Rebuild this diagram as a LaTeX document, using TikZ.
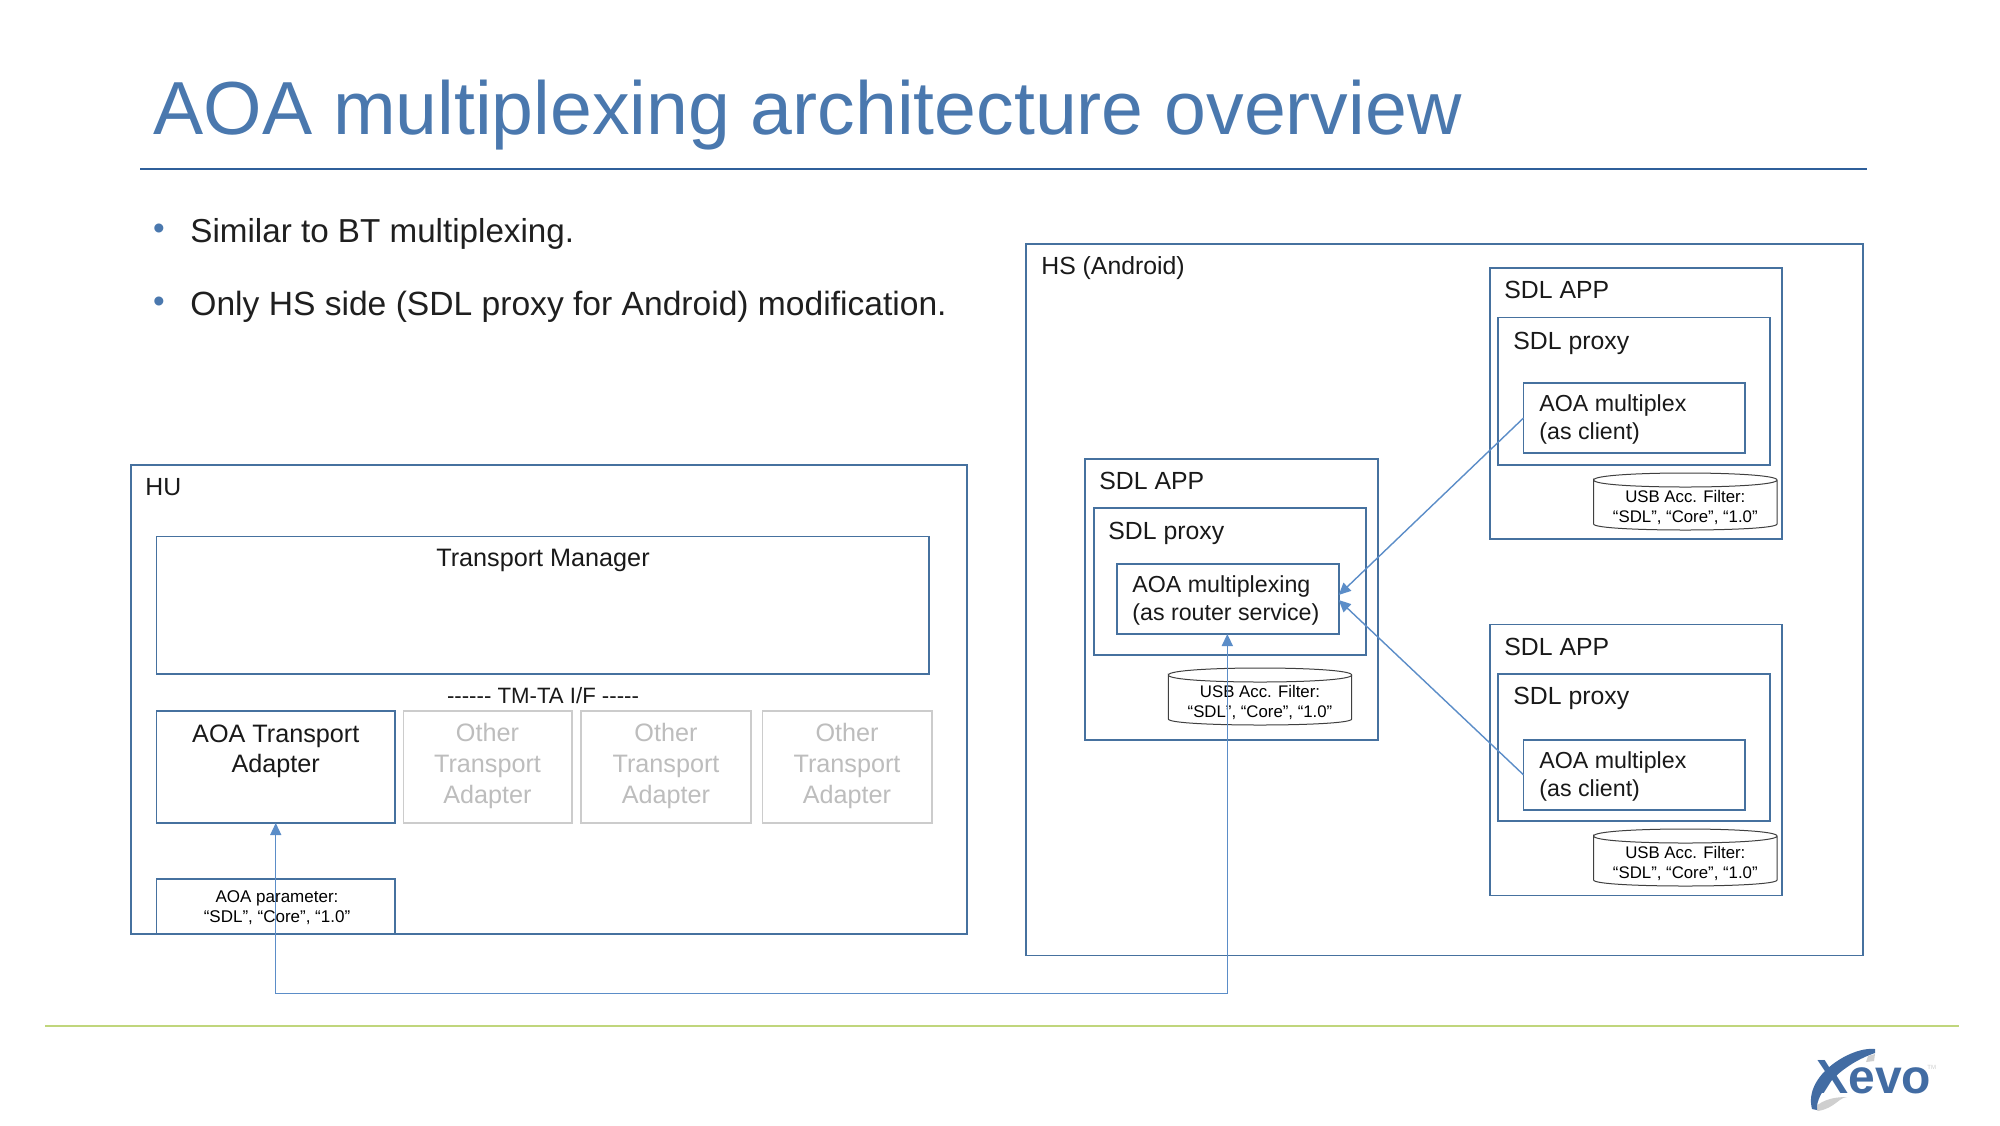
\documentclass[tikz,border=0pt]{standalone}
\usepackage{fontspec}
\setmainfont{Liberation Sans}
\usetikzlibrary{arrows.meta}
\definecolor{titleblue}{HTML}{4A78AE}
\definecolor{rulecol}{HTML}{2F5F9A}
\definecolor{boxblue}{HTML}{46719F}
\definecolor{arrowblue}{HTML}{5B8DC8}
\definecolor{greybox}{HTML}{CCCCCC}
\definecolor{greytext}{HTML}{BDBDBD}
\definecolor{footgreen}{HTML}{C0D67C}
\definecolor{logoblue}{HTML}{426CA3}
\definecolor{logogrey}{HTML}{CFCFCF}
\tikzset{
  x=0.5pt,y=-0.5pt,
  bx/.style={draw=boxblue,line width=0.9pt,inner sep=0pt,outer sep=0pt,anchor=north west},
  gbx/.style={bx,draw=greybox},
  cyl/.style={rectangle,minimum width=91.7pt,minimum height=22.5pt,
     inner sep=0pt,outer sep=0pt,align=center,font=\fontsize{8.4}{10}\selectfont},
  cylline/.style={draw=black!75,line width=0.5pt},
  lbl/.style={anchor=west,inner sep=0pt,align=left,font=\fontsize{12.4}{15.4}\selectfont,text=black!90},
  inner lbl/.style={anchor=west,inner sep=0pt,align=left,font=\fontsize{11.6}{14}\selectfont,text=black!90},
  ctr/.style={inner sep=0pt,align=center,font=\fontsize{12.6}{15}\selectfont,text=black!90},
  gctr/.style={ctr,text=greytext,font=\fontsize{12.6}{15.4}\selectfont},
  small/.style={inner sep=0pt,align=center,font=\fontsize{8.5}{10}\selectfont,text=black},
  link/.style={draw=arrowblue,line width=0.7pt,-{Triangle[length=6pt,width=5.5pt]}},
  bullet/.style={inner sep=0pt,text=titleblue,font=\fontsize{16.6}{20}\selectfont},
  body/.style={anchor=west,inner sep=0pt,font=\fontsize{16.6}{20}\selectfont,text=black!88}
}
\newcommand{\boxn}[6][bx]{\node[#1,minimum width={(#5-#3)*0.5pt},minimum height={(#6-#4)*0.5pt}] (#2) at (#3,#4) {};}
\newcommand{\cylshell}[1]{%
  \draw[cylline] ([yshift=2.5pt]#1.north west)
    .. controls ([yshift=7.17pt]#1.north west) and ([yshift=7.17pt]#1.north east) .. ([yshift=2.5pt]#1.north east)
    .. controls ([yshift=-2.17pt]#1.north east) and ([yshift=-2.17pt]#1.north west) .. ([yshift=2.5pt]#1.north west)
    -- ([yshift=3pt]#1.south west)
    .. controls ([yshift=-1pt]#1.south west) and ([yshift=-1pt]#1.south east) .. ([yshift=3pt]#1.south east)
    -- ([yshift=2.5pt]#1.north east);}
\begin{document}
\begin{tikzpicture}
\useasboundingbox (0,0) rectangle (2000,1125);
\fill[white] (0,0) rectangle (2000,1125);
% title
\node[anchor=base west,inner sep=0pt,text=titleblue,font=\fontsize{37.6}{44}\selectfont] (title) at (153,134) {AOA multiplexing architecture overview};
\coordinate (ruleL) at (140,169); \coordinate (ruleR) at (1867,169);
\draw[rulecol,line width=0.9pt] (ruleL) -- (ruleR);
\node[bullet] (b1) at (159,232) {•};
\node[body] (t1) at (190,234) {Similar to BT multiplexing.};
\node[bullet] (b2) at (159,305) {•};
\node[body,font=\fontsize{16.8}{20}\selectfont] (t2) at (190,306.5) {Only HS side (SDL proxy for Android) modification.};
% HU
\boxn{hu}{130.7}{465}{966.8}{934}
\node[lbl] (huT) at (145,487) {HU};
\boxn{tm}{156.5}{536.5}{929}{674}
\node[ctr] (tmT) at (543,560.5) {Transport Manager};
\node[ctr,font=\fontsize{11.1}{14}\selectfont] (ifT) at (543,695.5) {-{}-{}-{}-{}-{}- TM-TA I/F -{}-{}-{}-{}-};
\boxn{ata}{156.5}{711}{395}{823}
\node[ctr] (ataT) at (275.75,751) {AOA Transport\\Adapter};
\boxn[gbx]{o1}{403.4}{711}{572.3}{823}
\node[gctr] (o1T) at (487.5,766) {Other\\Transport\\Adapter};
\boxn[gbx]{o2}{581.3}{711}{750.8}{823}
\node[gctr] (o2T) at (666,766) {Other\\Transport\\Adapter};
\boxn[gbx]{o3}{762.5}{711}{932}{823}
\node[gctr] (o3T) at (847,766) {Other\\Transport\\Adapter};
\boxn{par}{156.5}{878.7}{395}{934}
\node[small] (parT) at (277,908) {AOA parameter:\\“SDL”, “Core”, “1.0”};
% HS
\boxn{hs}{1026}{244}{1863}{955.5}
\node[lbl] (hsT) at (1041,268) {HS (Android)};
% top app
\boxn{appA}{1490}{268}{1782}{539}
\node[lbl] (appAT) at (1504,289.5) {SDL APP};
\boxn{prxA}{1498}{317.5}{1770}{465}
\node[lbl] (prxAT) at (1513,343) {SDL proxy};
\boxn{muxA}{1523.5}{383}{1745}{453}
\node[inner lbl] (muxAT) at (1539,419) {AOA multiplex\\(as client)};
\node[cyl] (cylA) at (1685.3,507.5) {USB Acc. Filter:\\“SDL”, “Core”, “1.0”};
\cylshell{cylA}
% middle app
\boxn{appB}{1085}{458.6}{1378}{740}
\node[lbl] (appBT) at (1099,481) {SDL APP};
\boxn{prxB}{1093.6}{508}{1365.7}{655}
\node[lbl] (prxBT) at (1108,533) {SDL proxy};
\boxn{mux}{1117}{564}{1338.7}{634}
\node[inner lbl] (muxT) at (1132,600) {AOA multiplexing\\(as router service)};
\node[cyl] (cylB) at (1260,702.5) {USB Acc. Filter:\\“SDL”, “Core”, “1.0”};
\cylshell{cylB}
% bottom app
\boxn{appC}{1490}{624.5}{1782}{895.5}
\node[lbl] (appCT) at (1504,647) {SDL APP};
\boxn{prxC}{1498}{674}{1770}{821}
\node[lbl] (prxCT) at (1513,698.5) {SDL proxy};
\boxn{muxC}{1523.5}{739.6}{1745}{810}
\node[inner lbl] (muxCT) at (1539,776) {AOA multiplex\\(as client)};
\node[cyl] (cylC) at (1685.3,863.5) {USB Acc. Filter:\\“SDL”, “Core”, “1.0”};
\cylshell{cylC}
% connectors
\draw[link] (muxA.west) -- ([yshift=2pt]mux.east);
\draw[link] (muxC.west) -- ([yshift=-0.5pt]mux.east);
\coordinate (busR) at (1227.3,993.7);
\draw[link] (busR) -- (ata.south |- busR) -- (ata.south);
\draw[link] (busR) -- (busR |- mux.south);
% footer
\coordinate (footL) at (45,1026); \coordinate (footR) at (1959,1026);
\draw[footgreen,line width=0.7pt] (footL) -- (footR);
% logo
\fill[logogrey] (1818,1111) .. controls (1835,1108) and (1838,1098) .. (1847,1097) .. controls (1838,1097) and (1824,1098) .. (1814,1108) -- cycle;
\fill[logogrey] (1868,1056) -- (1875,1054) -- (1874,1061) -- (1866,1062) -- cycle;
\node[anchor=base west,inner sep=0pt,text=logoblue,font=\bfseries\fontsize{24}{30}\selectfont] (logo) at (1816,1093) {Xevo};
\fill[logoblue] (1875,1049) .. controls (1852,1046) and (1803,1075) .. (1812,1109) -- (1817,1110) .. controls (1815,1092) and (1842,1064) .. (1875,1053) -- cycle;
\node[anchor=west,inner sep=0pt,text=logogrey,font=\fontsize{3}{3}\selectfont] (tm2) at (1927,1067) {TM};
\end{tikzpicture}
\end{document}
